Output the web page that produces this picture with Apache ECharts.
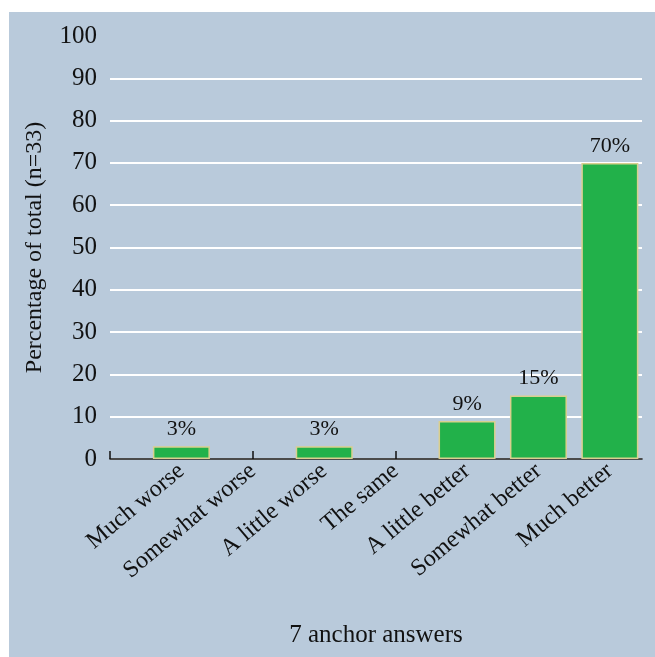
<!DOCTYPE html>
<html>
<head>
<meta charset="utf-8">
<script src="https://cdn.jsdelivr.net/npm/echarts@6/dist/echarts.min.js"></script>
<style>
  html, body { margin: 0; padding: 0; background: #fff; }
  #panel { position: absolute; left: 9px; top: 12px; width: 646px; height: 645px; background: #b9cadb; }
  #chart { position: absolute; left: 0; top: 0; width: 655px; height: 657px; }
</style>
</head>
<body>
<div id="panel"></div>
<div id="chart"></div>
<script>
// 7 anchor answers
var categories = ['Much worse', 'Somewhat worse', 'A little worse', 'The same', 'A little better', 'Somewhat better', 'Much better'];
var percents = [3, 0, 3, 0, 9, 15, 70];
var yTicks = [0, 10, 20, 30, 40, 50, 60, 70, 80, 90, 100];

var serif = '"Liberation Serif", "DejaVu Serif", serif';

// bars sit at positions 1..7 on the x axis, empty answers get no outline
var barData = [];
for (var i = 0; i < categories.length; i++) {
  var item = { value: [i + 1, percents[i]] };
  if (percents[i] === 0) item.itemStyle = { borderWidth: 0, opacity: 0 };
  barData.push(item);
}

var chart = echarts.init(document.getElementById('chart'));
chart.setOption({
  backgroundColor: 'transparent',
  animation: false,
  grid: { left: 110, right: 13, top: 36, bottom: 198 },
  xAxis: {
    type: 'value',
    min: 0,
    max: 7.45,
    name: '7 anchor answers',
    nameLocation: 'middle',
    nameGap: 164,
    nameTextStyle: { fontFamily: serif, fontSize: 25, color: '#111' },
    axisLine: { show: true, lineStyle: { color: '#111', width: 1.5 } },
    axisTick: {
      show: true, inside: true, length: 8,
      customValues: [0, 1, 2, 3, 4, 5, 6, 7],
      lineStyle: { color: '#111', width: 1.5 }
    },
    splitLine: { show: false },
    axisLabel: {
      customValues: [1, 2, 3, 4, 5, 6, 7],
      rotate: 40,
      margin: 9,
      fontFamily: serif,
      fontSize: 24,
      color: '#111',
      formatter: function (v) { return categories[Math.round(v) - 1] || ''; }
    }
  },
  yAxis: {
    type: 'value',
    min: 0,
    max: 100,
    interval: 10,
    name: 'Percentage of total (n=33)',
    nameLocation: 'middle',
    nameGap: 63,
    nameTextStyle: { fontFamily: serif, fontSize: 24, color: '#111' },
    axisLine: { show: false },
    axisTick: { show: false },
    axisLabel: {
      margin: 13,
      fontFamily: serif,
      fontSize: 25,
      color: '#111',
      formatter: function (v) { return yTicks.indexOf(v) >= 0 ? String(v) : ''; }
    },
    splitLine: { show: true, showMaxLine: false, lineStyle: { color: '#ffffff', width: 2 } }
  },
  series: [{
    type: 'bar',
    data: barData,
    barWidth: 57,
    itemStyle: { color: '#22b14a', borderColor: '#d9cf8f', borderWidth: 1.5 },
    label: {
      show: true,
      position: 'top',
      distance: 6,
      fontFamily: serif,
      fontSize: 22,
      color: '#111',
      formatter: function (p) { return p.value[1] > 0 ? p.value[1] + '%' : ''; }
    }
  }]
});
</script>
</body>
</html>
